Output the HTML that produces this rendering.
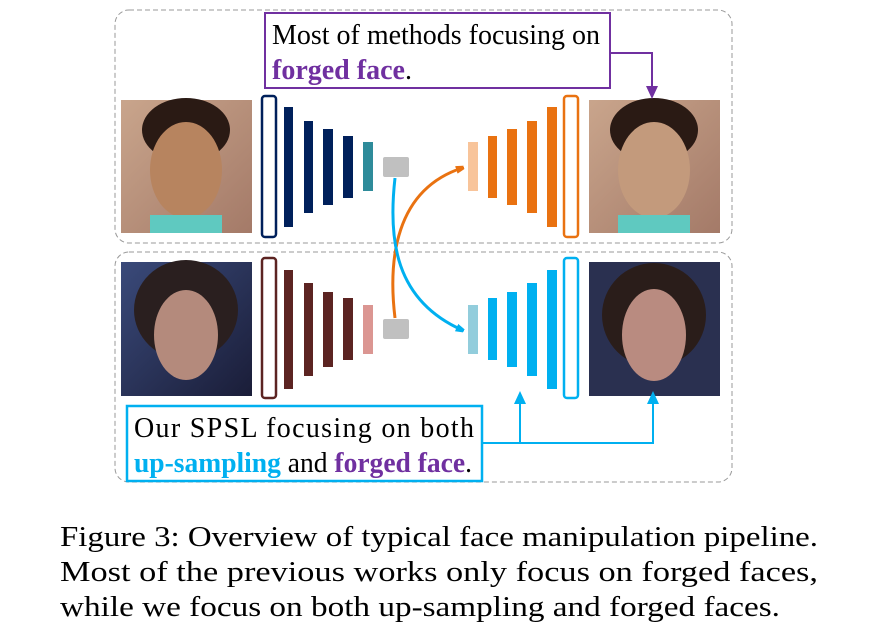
<!DOCTYPE html>
<html><head><meta charset="utf-8"><style>
html,body{margin:0;padding:0;background:#fff;}
svg{display:block;}
text{font-family:"Liberation Serif",serif;}
</style></head><body>
<svg width="881" height="630" viewBox="0 0 881 630" xmlns="http://www.w3.org/2000/svg">
<defs>
<marker id="ao" markerWidth="8" markerHeight="8" refX="6" refY="4" orient="auto" markerUnits="userSpaceOnUse"><path d="M0,0 L14,4 L0,8 z" fill="#e97211"/></marker>
<marker id="ab" markerWidth="8" markerHeight="8" refX="6" refY="4" orient="auto" markerUnits="userSpaceOnUse"><path d="M0,0 L14,4 L0,8 z" fill="#00b0f0"/></marker>
<linearGradient id="f1" x1="0" y1="0" x2="1" y2="1"><stop offset="0" stop-color="#c9a58c"/><stop offset="1" stop-color="#a47a68"/></linearGradient>
<linearGradient id="f2" x1="0" y1="0" x2="1" y2="1"><stop offset="0" stop-color="#3a4a7a"/><stop offset="1" stop-color="#1a1d38"/></linearGradient>
</defs>
<rect x="115" y="10" width="617" height="233" rx="14" fill="none" stroke="#999" stroke-dasharray="5,3"/>
<rect x="115" y="252" width="617" height="230" rx="14" fill="none" stroke="#999" stroke-dasharray="5,3"/>

<g>
<rect x="121" y="100" width="131" height="133" fill="url(#f1)"/>
<ellipse cx="186" cy="130" rx="44" ry="32" fill="#2a1a14"/>
<ellipse cx="186" cy="170" rx="36" ry="48" fill="#b7845f"/>
<rect x="150" y="215" width="72" height="18" fill="#5fc9c0"/>
</g>
<g>
<rect x="589" y="100" width="131" height="133" fill="url(#f1)"/>
<ellipse cx="654" cy="130" rx="44" ry="32" fill="#2a1a14"/>
<ellipse cx="654" cy="170" rx="36" ry="48" fill="#c39a7c"/>
<rect x="618" y="215" width="72" height="18" fill="#5fc9c0"/>
</g>
<g>
<rect x="121" y="262" width="131" height="134" fill="url(#f2)"/>
<ellipse cx="186" cy="310" rx="52" ry="50" fill="#2a1f1f"/>
<ellipse cx="186" cy="335" rx="32" ry="45" fill="#b48a7c"/>
</g>
<g>
<rect x="589" y="262" width="131" height="134" fill="#2a3050"/>
<ellipse cx="654" cy="315" rx="52" ry="52" fill="#2a1d1a"/>
<ellipse cx="654" cy="335" rx="32" ry="46" fill="#b98b80"/>
</g>

<rect x="262" y="96" width="14" height="141" rx="3" fill="none" stroke="#00205b" stroke-width="2.5"/>
<g fill="#00205b">
<rect x="284" y="107" width="9" height="120"/><rect x="304" y="121" width="9" height="92"/><rect x="323" y="129" width="10" height="76"/><rect x="343" y="136" width="10" height="62"/><rect x="363" y="142" width="10" height="49" fill="#2e8b9a"/>
</g>
<rect x="383" y="157" width="26" height="20" rx="2" fill="#c0c0c0"/>
<g fill="#e97211">
<rect x="468" y="142" width="10" height="49" fill="#f8c49a"/><rect x="488" y="136" width="9" height="62"/><rect x="507" y="129" width="10" height="76"/><rect x="527" y="121" width="10" height="92"/><rect x="547" y="107" width="10" height="120"/>
</g>
<rect x="564" y="96" width="14" height="141" rx="3" fill="none" stroke="#e97211" stroke-width="2.5"/>

<rect x="262" y="258" width="14" height="140" rx="3" fill="none" stroke="#5c2422" stroke-width="2.5"/>
<g fill="#5c2422">
<rect x="284" y="270" width="9" height="119"/><rect x="304" y="283" width="9" height="93"/><rect x="323" y="292" width="10" height="75"/><rect x="343" y="298" width="10" height="62"/><rect x="363" y="305" width="10" height="49" fill="#db9692"/>
</g>
<rect x="383" y="319" width="26" height="20" rx="2" fill="#c0c0c0"/>
<g fill="#00b0f0">
<rect x="468" y="305" width="10" height="49" fill="#92cddc"/><rect x="488" y="298" width="9" height="62"/><rect x="507" y="292" width="10" height="75"/><rect x="527" y="283" width="10" height="93"/><rect x="547" y="270" width="10" height="119"/>
</g>
<rect x="564" y="258" width="14" height="140" rx="3" fill="none" stroke="#00b0f0" stroke-width="2.5"/>

<path d="M395,318 C388,260 395,190 462,168" fill="none" stroke="#e97211" stroke-width="3" marker-end="url(#ao)"/>
<path d="M395,178 C388,240 395,300 462,330" fill="none" stroke="#00b0f0" stroke-width="3" marker-end="url(#ab)"/>

<rect x="265" y="13" width="345" height="75" fill="#fff" stroke="#7030a0" stroke-width="2"/>
<text x="272" y="44" font-size="28" fill="#000" textLength="328" lengthAdjust="spacingAndGlyphs">Most of methods focusing on</text>
<text x="272" y="79" font-size="28" fill="#000"><tspan font-weight="bold" fill="#7030a0">forged face</tspan>.</text>
<path d="M610,53 H652 V88" fill="none" stroke="#7030a0" stroke-width="2"/>
<path d="M646,86 L652,99 L658,86 z" fill="#7030a0"/>

<rect x="127" y="406" width="355" height="75" fill="#fff" stroke="#00b0f0" stroke-width="2.5"/>
<text x="134" y="437" font-size="28" fill="#000" textLength="340" lengthAdjust="spacing">Our SPSL focusing on both</text>
<text x="134" y="472" font-size="28" fill="#000" textLength="338" lengthAdjust="spacingAndGlyphs"><tspan font-weight="bold" fill="#00b0f0">up-sampling</tspan> and <tspan font-weight="bold" fill="#7030a0">forged face</tspan>.</text>
<path d="M482,443 H653 V402 M520,443 V402" fill="none" stroke="#00b0f0" stroke-width="2"/>
<path d="M514,404 L520,391 L526,404 z M647,404 L653,391 L659,404 z" fill="#00b0f0"/>

<text x="60" y="546" font-size="29" fill="#000" textLength="758" lengthAdjust="spacingAndGlyphs">Figure 3: Overview of typical face manipulation pipeline.</text>
<text x="60" y="581" font-size="29" fill="#000" textLength="758" lengthAdjust="spacingAndGlyphs">Most of the previous works only focus on forged faces,</text>
<text x="60" y="616" font-size="29" fill="#000" textLength="720" lengthAdjust="spacingAndGlyphs">while we focus on both up-sampling and forged faces.</text>
</svg>
</body></html>
